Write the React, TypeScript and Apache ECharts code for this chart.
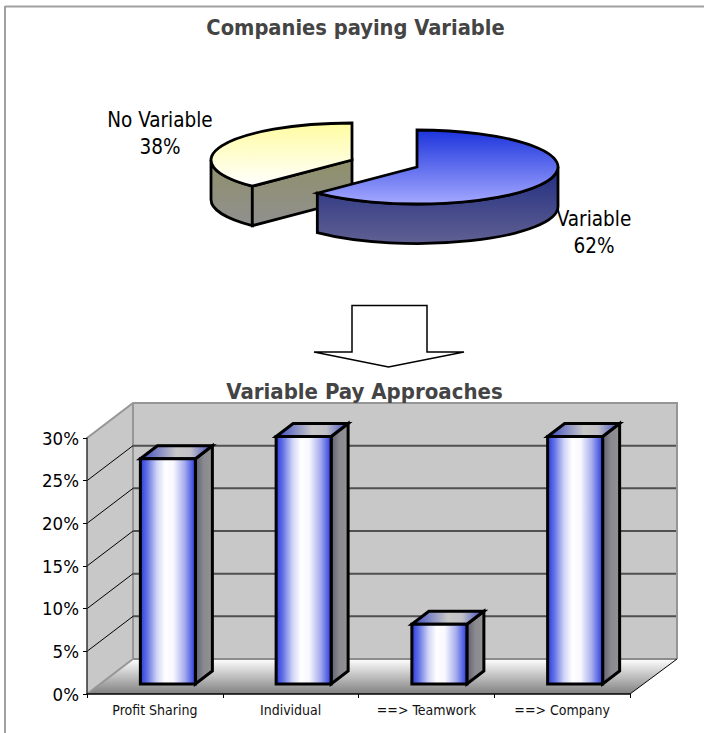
import React, { useEffect, useRef } from "react";
import * as echarts from "echarts";

const pieTitle = "Companies paying Variable";
const barTitle = "Variable Pay Approaches";
const pieNames = ["No Variable", "Variable"];
const pieValues = [38, 62];
const categories = ["Profit Sharing", "Individual", "==> Teamwork", "==> Company"];
const barValues = [0.264, 0.29, 0.07, 0.29];
const gridTicks = [0.05, 0.1, 0.15, 0.2, 0.25];

const FONT = "'DejaVu Sans Condensed', 'DejaVu Sans', sans-serif";
const DEPTH_X = 46;
const DEPTH_Y = 35;
const RX = 141;
const RY = 37;
const PIE_H = 39.5;
const PIE_PROJECTION = 1.008;
const BAR_W = 55;
const BAR_DX = 13;
const BAR_DY = 10;
const SIDE_X = 17;
const SIDE_Y = 13;
const BLACK = "#000";

const v = (a: string, b: string) =>
  new echarts.graphic.LinearGradient(0, 0, 0, 1, [
    { offset: 0, color: a },
    { offset: 1, color: b },
  ]);
const h = (stops: [number, string][]) =>
  new echarts.graphic.LinearGradient(
    0,
    0,
    1,
    0,
    stops.map(([offset, color]) => ({ offset, color }))
  );

function renderWalls(params: any) {
  const c = params.coordSys;
  const x0 = c.x;
  const x1 = c.x + c.width;
  const y0 = c.y;
  const y1 = c.y + c.height;
  const bx0 = x0 + DEPTH_X;
  const bx1 = x1 + DEPTH_X + 1;
  const by0 = y0 - DEPTH_Y;
  const by1 = y1 - DEPTH_Y;
  const wall = { fill: "#c8c8c8", stroke: "none" };
  const edge = { stroke: "#969696", lineWidth: 2, fill: "none" };
  return {
    type: "group",
    children: [
      { type: "polygon", shape: { points: [[x0, y0], [bx0, by0], [bx0, by1], [x0, y1]] }, style: wall },
      { type: "rect", shape: { x: bx0, y: by0, width: bx1 - bx0, height: by1 - by0 }, style: wall },
      {
        type: "polygon",
        shape: { points: [[bx0, by1], [bx1, by1], [x1, y1], [x0, y1]] },
        style: { fill: v("#ffffff", "#808080"), stroke: "none" },
      },
      { type: "polyline", shape: { points: [[x0, y0], [bx0, by0], [bx1, by0], [bx1, by1]] }, style: edge },
      { type: "line", shape: { x1: bx0, y1: by0, x2: bx0, y2: by1 }, style: edge },
      { type: "line", shape: { x1: bx0, y1: by1, x2: x0, y2: y1 }, style: edge },
      { type: "line", shape: { x1: bx0, y1: by1, x2: bx1, y2: by1 }, style: { stroke: "#8c8c8c", lineWidth: 2 } },
      { type: "line", shape: { x1: x1, y1: y1, x2: bx1, y2: by1 }, style: { stroke: BLACK, lineWidth: 1 } },
    ],
  };
}

function renderGrid(params: any, api: any) {
  const c = params.coordSys;
  const y = api.coord([0, api.value(1)])[1];
  const bx0 = c.x + DEPTH_X;
  const bx1 = c.x + c.width + DEPTH_X;
  return {
    type: "group",
    children: [
      { type: "line", shape: { x1: c.x, y1: y, x2: bx0, y2: y - DEPTH_Y }, style: { stroke: "#000", lineWidth: 1 } },
      { type: "line", shape: { x1: bx0, y1: y - DEPTH_Y, x2: bx1, y2: y - DEPTH_Y }, style: { stroke: "#505050", lineWidth: 2 } },
    ],
  };
}

function renderBar(_params: any, api: any) {
  const base = api.coord([api.value(0), 0]);
  const top = api.coord([api.value(0), api.value(1)]);
  const l = base[0] + BAR_DX - BAR_W / 2;
  const r = l + BAR_W;
  const b = base[1] - BAR_DY;
  const t = top[1] - BAR_DY;
  const stroke = { stroke: BLACK, lineWidth: 3, lineJoin: "miter" };
  return {
    type: "group",
    children: [
      {
        type: "polygon",
        shape: { points: [[r, t], [r + SIDE_X, t - SIDE_Y], [r + SIDE_X, b - SIDE_Y], [r, b]] },
        style: { ...stroke, fill: h([[0, "#606072"], [0.5, "#8a8a90"], [1, "#929292"]]) },
      },
      {
        type: "polygon",
        shape: { points: [[l, t], [l + SIDE_X, t - SIDE_Y], [r + SIDE_X, t - SIDE_Y], [r, t]] },
        style: { ...stroke, fill: h([[0, "#3a48c0"], [0.5, "#c8c8c8"], [0.7, "#c0c0c8"], [1, "#3a48c0"]]) },
      },
      {
        type: "rect",
        shape: { x: l, y: t, width: BAR_W, height: b - t },
        style: {
          ...stroke,
          fill: h([
            [0, "#2a3ce0"],
            [0.12, "#6070e4"],
            [0.3, "#d0d4f6"],
            [0.45, "#ffffff"],
            [0.6, "#f8f8fe"],
            [0.8, "#a8aeee"],
            [1, "#2a3ce0"],
          ]),
        },
      },
    ],
  };
}

function pt(cx: number, cy: number, deg: number, dy = 0) {
  const a = (deg * Math.PI) / 180;
  return [cx + RX * Math.sin(a), cy - RY * Math.cos(a) + dy];
}

function wallPath(cx: number, cy: number, from: number, to: number) {
  const a = pt(cx, cy, from);
  const b = pt(cx, cy, to);
  const c = pt(cx, cy, to, PIE_H);
  const d = pt(cx, cy, from, PIE_H);
  const large = to - from > 180 ? 1 : 0;
  return `M${a[0]} ${a[1]}A${RX} ${RY} 0 ${large} 1 ${b[0]} ${b[1]}L${c[0]} ${c[1]}A${RX} ${RY} 0 ${large} 0 ${d[0]} ${d[1]}Z`;
}

function topPath(cx: number, cy: number, from: number, to: number) {
  const a = pt(cx, cy, from);
  const b = pt(cx, cy, to);
  const large = to - from > 180 ? 1 : 0;
  return `M${cx} ${cy}L${a[0]} ${a[1]}A${RX} ${RY} 0 ${large} 1 ${b[0]} ${b[1]}Z`;
}

function renderPie(params: any, api: any) {
  const i = params.dataIndex;
  const total = pieValues.reduce((s, x) => s + x, 0);
  const split = (pieValues[1] / total) * 360 * PIE_PROJECTION;
  const stroke = { stroke: BLACK, lineWidth: 2.8, lineJoin: "miter" };
  const label = {
    type: "text",
    z2: 50,
    style: {
      text: `${pieNames[i]}\n${api.value(0)}%`,
      x: i === 0 ? 160 : 594,
      y: i === 0 ? 133.5 : 232,
      align: "center",
      verticalAlign: "middle",
      fontFamily: FONT,
      fontSize: 20.5,
      lineHeight: 27,
      fill: "#000",
    },
  };
  if (i === 0) {
    const cx = 352;
    const cy = 160;
    const side = v("#90906a", "#909090");
    const a = pt(cx, cy, split);
    const a2 = pt(cx, cy, split, PIE_H);
    return {
      type: "group",
      children: [
        { type: "path", shape: { pathData: wallPath(cx, cy, split, 270) }, style: { ...stroke, fill: side } },
        {
          type: "polygon",
          shape: { points: [[cx, cy], a, a2, [cx, cy + PIE_H]] },
          style: { ...stroke, fill: side },
        },
        { type: "path", shape: { pathData: topPath(cx, cy, split, 360) }, style: { ...stroke, fill: v("#fffca0", "#ffffff") } },
        label,
      ],
    };
  }
  const cx = 417;
  const cy = 167;
  return {
    type: "group",
    children: [
      { type: "path", shape: { pathData: wallPath(cx, cy, 90, split) }, style: { ...stroke, fill: v("#202c80", "#606092") } },
      { type: "path", shape: { pathData: topPath(cx, cy, 0, split) }, style: { ...stroke, fill: v("#1c34dc", "#a4a8ff") } },
      label,
    ],
  };
}

export default function App() {
  const ref = useRef<HTMLDivElement>(null);
  useEffect(() => {
    document.body.style.margin = "0";
    const chart = echarts.init(ref.current!, null, { renderer: "svg" });
    chart.setOption({
      animation: false,
      backgroundColor: "#fff",
      title: [
        {
          text: pieTitle,
          left: 350.5,
          top: 11,
          textAlign: "center",
          textStyle: { fontFamily: FONT, fontSize: 21.7, fontWeight: "bold", color: "#444" },
        },
        {
          text: barTitle,
          left: 359.5,
          top: 375,
          textAlign: "center",
          textStyle: { fontFamily: FONT, fontSize: 22, fontWeight: "bold", color: "#444" },
        },
      ],
      graphic: [
        { type: "line", shape: { x1: 5, y1: 6, x2: 5, y2: 733 }, style: { stroke: "#a0a0a0", lineWidth: 2 } },
        { type: "line", shape: { x1: 5, y1: 6.5, x2: 704, y2: 6.5 }, style: { stroke: "#a0a0a0", lineWidth: 2 } },
        {
          type: "polygon",
          shape: {
            points: [[352, 305.5], [427, 305.5], [427, 352], [464, 352], [388.5, 367], [314, 352], [352, 352]],
          },
          style: { fill: "#fff", stroke: "#000", lineWidth: 1.5 },
        },
      ],
      grid: { left: 87, top: 438, width: 543, height: 256, containLabel: false },
      xAxis: {
        type: "category",
        data: categories,
        z: 5,
        axisLine: { lineStyle: { color: "#000", width: 1.5 } },
        axisTick: { show: true, length: 4, alignWithLabel: false, lineStyle: { color: "#000" } },
        axisLabel: { fontFamily: FONT, fontSize: 14, color: "#111", margin: 9 },
      },
      yAxis: {
        type: "value",
        min: 0,
        max: 0.3,
        interval: 0.05,
        z: 5,
        splitLine: { show: false },
        axisLine: { show: true, lineStyle: { color: "#333", width: 1.5 } },
        axisTick: { show: true, length: 4, lineStyle: { color: "#000" } },
        axisLabel: {
          fontFamily: FONT,
          fontSize: 18.5,
          color: "#000",
          margin: 8,
          formatter: (x: number) => `${Math.round(x * 100)}%`,
        },
      },
      series: [
        {
          type: "custom",
          z: -2,
          coordinateSystem: "cartesian2d",
          data: [[0, 0]],
          renderItem: renderWalls,
          silent: true,
        },
        {
          type: "custom",
          z: -1,
          coordinateSystem: "cartesian2d",
          data: gridTicks.map((t) => [0, t]),
          encode: { x: 0, y: 1 },
          renderItem: renderGrid,
          silent: true,
        },
        {
          type: "custom",
          z: 3,
          coordinateSystem: "cartesian2d",
          data: barValues.map((val, i) => [i, val]),
          encode: { x: 0, y: 1 },
          renderItem: renderBar,
        },
        {
          type: "custom",
          z: 4,
          coordinateSystem: "none",
          data: pieValues.map((val) => [val]),
          renderItem: renderPie,
        },
      ],
    });
    return () => chart.dispose();
  }, []);
  return <div ref={ref} style={{ width: 704, height: 733 }} />;
}
